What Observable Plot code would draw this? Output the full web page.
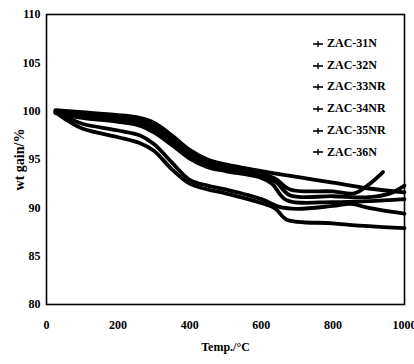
<!DOCTYPE html>
<html><head><meta charset="utf-8">
<script src="https://cdn.jsdelivr.net/npm/d3@7"></script>
<script src="https://cdn.jsdelivr.net/npm/@observablehq/plot@0.6"></script>
<style>
body{margin:0;background:#fff;}
#wrap{position:relative;width:414px;height:364px;font-family:"Liberation Serif",serif;font-weight:bold;}
#legend{position:absolute;left:312px;top:33px;font-size:12px;line-height:21.7px;}
#legend .it{display:flex;align-items:center;white-space:nowrap;}
#legend svg{margin-right:3px;}
</style></head><body>
<div id="wrap"><div id="chart"></div><div id="legend"></div></div>
<script>
const seriesNames = ["ZAC-31N","ZAC-32N","ZAC-33NR","ZAC-34NR","ZAC-35NR","ZAC-36N"];
const temp1 = [25,100,200,260,300,350,400,450,500,600,700,800,900,1000];
const wt1   = [100.1,99.9,99.6,99.3,98.8,97.5,96.0,95.0,94.5,93.8,93.2,92.6,92.0,91.6];
const temp2 = [25,100,200,260,300,350,400,450,500,600,640,680,800,860,900,940];
const wt2   = [100,99.7,99.3,99.0,98.4,97.1,95.7,94.7,94.2,93.5,93.0,91.9,91.7,91.5,92.4,93.7];
const temp3 = [25,100,200,260,300,350,400,450,500,600,640,680,800,900,960,1000];
const wt3   = [99.9,99.5,99.1,98.7,98.1,96.8,95.4,94.4,94.0,93.3,92.7,91.3,91.2,91.1,91.5,92.3];
const temp4 = [25,100,200,260,300,350,400,450,500,600,630,670,800,900,1000];
const wt4   = [99.8,99.3,98.9,98.5,97.8,96.5,95.1,94.2,93.8,93.1,92.5,90.8,90.6,90.7,90.9];
const temp5 = [25,60,100,200,260,300,350,400,450,500,600,650,700,800,850,900,1000];
const wt5   = [100,99.3,98.7,98.0,97.5,96.6,94.7,92.9,92.3,91.9,90.9,90.1,89.9,90.2,90.4,90.0,89.4];
const temp6 = [25,60,100,200,260,300,350,400,450,500,600,640,670,800,900,1000];
const wt6   = [99.9,99.0,98.2,97.3,96.7,95.9,94.0,92.5,91.9,91.5,90.5,89.9,88.8,88.4,88.1,87.9];
const xTicks = [0,200,400,600,800,1000];
const yTicks = [80,85,90,95,100,105,110];

const temps = [temp1,temp2,temp3,temp4,temp5,temp6];
const wts = [wt1,wt2,wt3,wt4,wt5,wt6];
const data = [];
seriesNames.forEach((s,i)=>temps[i].forEach((t,j)=>data.push({series:s,t,w:wts[i][j]})));

const chart = Plot.plot({
  width:414, height:364,
  marginLeft:46, marginRight:10, marginTop:14, marginBottom:60,
  style:{fontFamily:"Liberation Serif, serif", fontWeight:"bold", fontSize:"12px", background:"#fff", color:"#000"},
  x:{domain:[0,1000]},
  y:{domain:[80,110]},
  marks:[
    Plot.frame({stroke:"#000", strokeWidth:1.6}),
    Plot.axisX({ticks:xTicks, tickFormat:d=>String(d), tickSize:0, tickPadding:16, label:"Temp./°C", labelArrow:"none", labelAnchor:"center", labelOffset:46, fontSize:12}),
    Plot.axisY({ticks:yTicks, tickFormat:d=>String(d), tickSize:0, tickPadding:6, label:"wt gain/%", labelAnchor:"center", labelOffset:32, labelArrow:"none", fontSize:12}),
    Plot.line(data,{x:"t", y:"w", z:"series", stroke:"#000", strokeWidth:3.8, curve:"catmull-rom"})
  ]
});
document.getElementById("chart").appendChild(chart);
chart.querySelectorAll("g[aria-label='y-axis label'] text").forEach(t=>t.setAttribute("font-size","14"));

const lg = document.getElementById("legend");
seriesNames.forEach(s=>{
  const d=document.createElement("div"); d.className="it";
  d.innerHTML='<svg width="12" height="8"><line x1="1" y1="4" x2="11" y2="4" stroke="#000" stroke-width="1.6"/><line x1="6" y1="1" x2="6" y2="7" stroke="#000" stroke-width="1.4"/></svg><span>'+s+'</span>';
  lg.appendChild(d);
});
</script></body></html>
